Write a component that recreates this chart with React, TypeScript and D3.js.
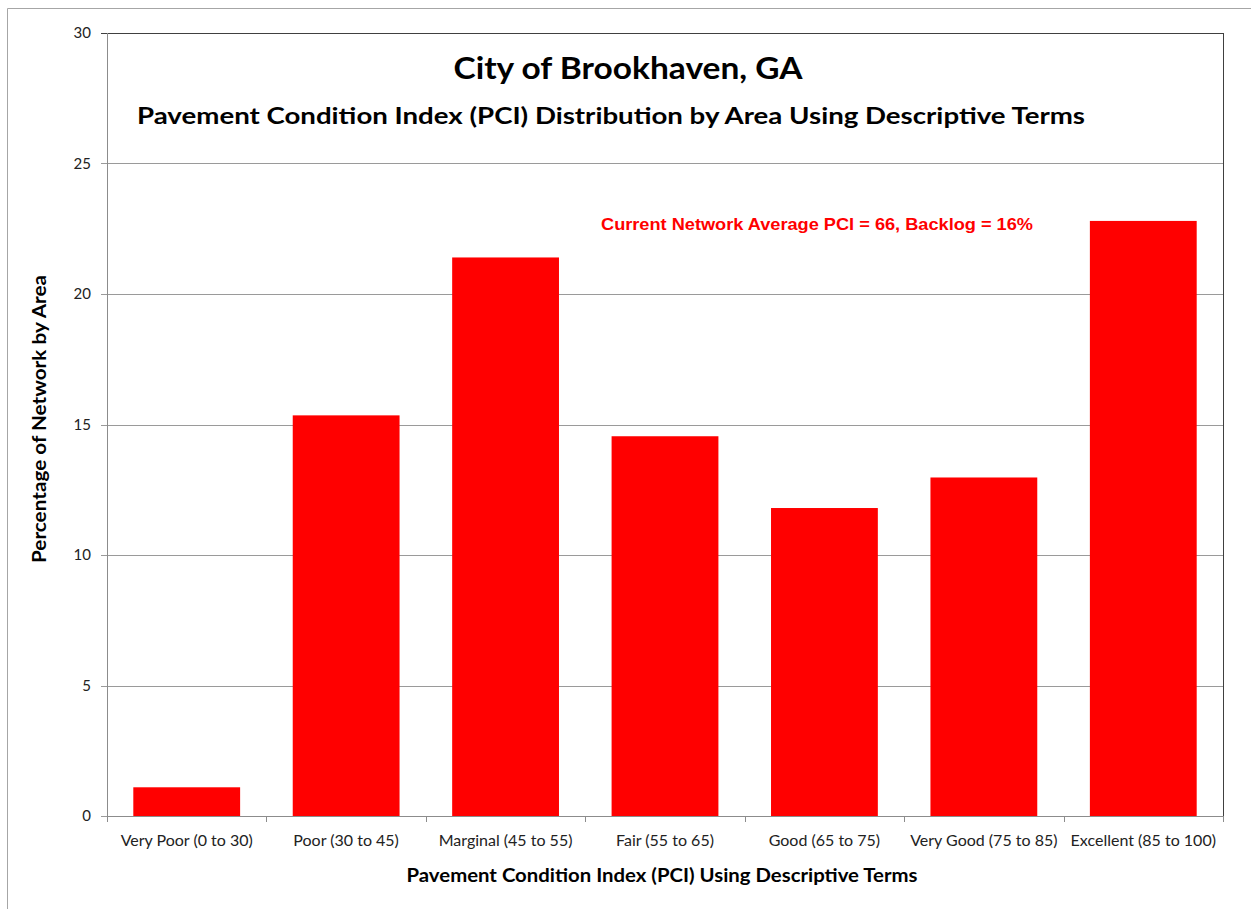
import React from "react";
import * as d3 from "d3";

const categories = [
  "Very Poor (0 to 30)",
  "Poor (30 to 45)",
  "Marginal (45 to 55)",
  "Fair (55 to 65)",
  "Good (65 to 75)",
  "Very Good (75 to 85)",
  "Excellent (85 to 100)",
];
const values = [1.1, 15.35, 21.4, 14.55, 11.8, 12.97, 22.8];
const yTicks = [0, 5, 10, 15, 20, 25, 30];

const W = 1251;
const H = 909;
const plot = { left: 107, top: 33, right: 1223, bottom: 816 };

export default function App() {
  const x = d3
    .scaleBand<string>()
    .domain(categories)
    .range([plot.left, plot.right])
    .paddingInner(0.33)
    .paddingOuter(0.165);
  const y = d3.scaleLinear().domain([0, 30]).range([plot.bottom, plot.top]);
  const step = (plot.right - plot.left) / categories.length;
  const boundaries = d3.range(categories.length + 1).map((i) => plot.left + i * step);
  const labelFont = "Lato, 'Open Sans', sans-serif";

  return (
    <svg
      width={W}
      height={H}
      style={{ position: "absolute", left: 0, top: 0, background: "#fff" }}
    >
      <rect x={0} y={0} width={W} height={H} fill="#fff" />
      {/* outer frame */}
      <line x1={7.5} y1={8.5} x2={W} y2={8.5} stroke="#a6a6a6" strokeWidth={1} />
      <line x1={7.5} y1={8.5} x2={7.5} y2={H} stroke="#a6a6a6" strokeWidth={1} />

      {/* gridlines */}
      {yTicks.map((t) => (
        <line
          key={"g" + t}
          x1={plot.left - 6}
          x2={plot.right}
          y1={Math.round(y(t)) + 0.5}
          y2={Math.round(y(t)) + 0.5}
          stroke={t === 30 ? "#404040" : "#9a9a9a"}
          strokeWidth={1}
        />
      ))}
      {/* plot borders */}
      <line x1={plot.right + 0.5} x2={plot.right + 0.5} y1={plot.top} y2={plot.bottom} stroke="#404040" strokeWidth={1} />
      <line x1={plot.left + 0.5} x2={plot.left + 0.5} y1={plot.top} y2={plot.bottom + 6} stroke="#8c8c8c" strokeWidth={1} />

      {/* bars */}
      {categories.map((c, i) => (
        <rect
          key={c}
          x={x(c)}
          y={y(values[i])}
          width={x.bandwidth()}
          height={y(0) - y(values[i])}
          fill="#ff0000"
        />
      ))}

      {/* x axis */}
      <line x1={plot.left} x2={plot.right + 1} y1={plot.bottom + 0.5} y2={plot.bottom + 0.5} stroke="#8c8c8c" strokeWidth={1} />
      {boundaries.map((b, i) => (
        <line
          key={"xt" + i}
          x1={Math.round(b) + 0.5}
          x2={Math.round(b) + 0.5}
          y1={plot.bottom}
          y2={plot.bottom + 6}
          stroke="#8c8c8c"
        />
      ))}
      {categories.map((c) => (
        <text
          key={"xl" + c}
          x={(x(c) as number) + x.bandwidth() / 2}
          y={846}
          textAnchor="middle"
          fontFamily={labelFont}
          fontSize={16}
          fill="#222"
        >
          {c}
        </text>
      ))}

      {/* y ticks */}
      {yTicks.map((t) => (
        <text
          key={"yl" + t}
          x={91}
          y={y(t) + 5}
          textAnchor="end"
          fontFamily={labelFont}
          fontSize={15}
          fill="#222"
        >
          {t}
        </text>
      ))}

      {/* titles */}
      <text
        x={628}
        y={79}
        textAnchor="middle"
        fontFamily={labelFont}
        fontWeight="bold"
        fontSize={31}
        textLength={349}
        lengthAdjust="spacingAndGlyphs"
        fill="#000"
      >
        City of Brookhaven, GA
      </text>
      <text
        x={611}
        y={124}
        textAnchor="middle"
        fontFamily={labelFont}
        fontWeight="bold"
        fontSize={23}
        textLength={948}
        lengthAdjust="spacingAndGlyphs"
        fill="#000"
      >
        Pavement Condition Index (PCI) Distribution by Area Using Descriptive Terms
      </text>
      <text
        x={817}
        y={230}
        textAnchor="middle"
        fontFamily="'Liberation Sans Narrow', 'Liberation Sans', Arial, sans-serif"
        fontWeight="bold"
        fontSize={17}
        textLength={432}
        lengthAdjust="spacingAndGlyphs"
        fill="#ff0000"
      >
        Current Network Average PCI = 66, Backlog = 16%
      </text>

      {/* axis titles */}
      <text
        x={662}
        y={882}
        textAnchor="middle"
        fontFamily={labelFont}
        fontWeight="bold"
        fontSize={18}
        textLength={511}
        lengthAdjust="spacingAndGlyphs"
        fill="#000"
      >
        Pavement Condition Index (PCI) Using Descriptive Terms
      </text>
      <text
        transform={`translate(46, 419) rotate(-90)`}
        textAnchor="middle"
        fontFamily={labelFont}
        fontWeight="bold"
        fontSize={18}
        textLength={288}
        lengthAdjust="spacingAndGlyphs"
        fill="#000"
      >
        Percentage of Network by Area
      </text>
    </svg>
  );
}
